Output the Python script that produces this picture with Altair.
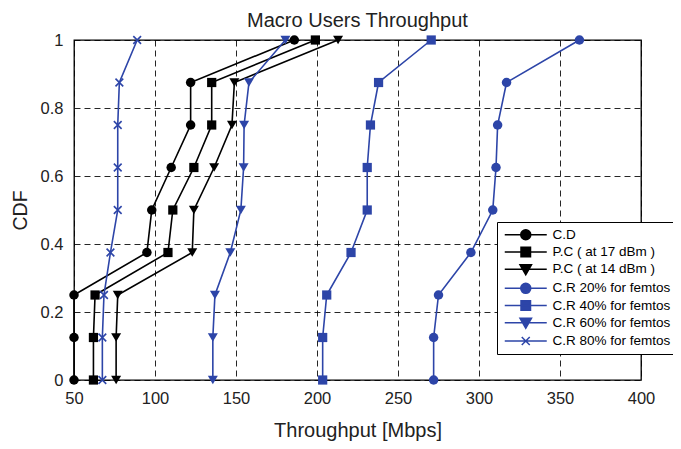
import altair as alt
import pandas as pd

cdf = [0, 0.125, 0.25, 0.375, 0.5, 0.625, 0.75, 0.875, 1]
names = ["C.D", "P.C ( at 17 dBm )", "P.C ( at 14 dBm )", "C.R 20% for femtos",
         "C.R 40% for femtos", "C.R 60% for femtos", "C.R 80% for femtos"]
cd = [50, 50, 50, 95, 98, 110, 122, 122, 186]
pc17 = [62, 62, 63, 108, 111, 124, 135, 135, 199]
pc14 = [76, 76, 77, 123, 124, 136.5, 147.5, 149, 213]
cr20 = [272, 272, 275, 295, 308.5, 310.5, 311.5, 317, 362]
cr40 = [203.5, 203.5, 206, 221, 231, 231, 233, 238, 270.5]
cr60 = [135.7, 135.7, 137, 146.5, 153, 154.7, 155, 158, 180.5]
cr80 = [67.5, 67.5, 68.5, 72.5, 77, 77, 77, 78, 89]
x_ticks = [50, 100, 150, 200, 250, 300, 350, 400]
y_ticks = [0, 0.2, 0.4, 0.6, 0.8, 1]

BLACK = "#000000"
BLUE = "#2D45A8"
colors = [BLACK, BLACK, BLACK, BLUE, BLUE, BLUE, BLUE]
series_vals = [cd, pc17, pc14, cr20, cr40, cr60, cr80]

XPATH = "M-1,-1L1,1M-1,1L1,-1"
markers = [("circle", 90, True), ("square", 85, True), ("triangle-down", 100, True),
           ("circle", 90, True), ("square", 85, True), ("triangle-down", 100, True),
           (XPATH, 60, False)]

legend_paths = [
    "M-4.2,0H4.2M-1,0A1,1 0 1,0 1,0A1,1 0 1,0 -1,0Z",
    "M-4.2,0H4.2M-0.95,-0.95H0.95V0.95H-0.95Z",
    "M-4.2,0H4.2M-1.15,-0.9H1.15L0,1.1Z",
    "M-4.2,0H4.2M-1,0A1,1 0 1,0 1,0A1,1 0 1,0 -1,0Z",
    "M-4.2,0H4.2M-0.95,-0.95H0.95V0.95H-0.95Z",
    "M-4.2,0H4.2M-1.15,-0.9H1.15L0,1.1Z",
    "M-4.2,0H4.2M-0.8,-0.8L0.8,0.8M-0.8,0.8L0.8,-0.8",
]

FONT = "Liberation Sans"
xscale = alt.Scale(domain=[50, 400], nice=False, zero=False)
yscale = alt.Scale(domain=[0, 1], nice=False, zero=False)
xaxis = alt.Axis(values=x_ticks, title="Throughput [Mbps]", grid=True, domain=False, ticks=False,
                 labelFlush=False, labelPadding=10, titlePadding=14, labelFontSize=16.5,
                 titleFontSize=20, labelFont=FONT, titleFont=FONT, titleFontWeight="normal",
                 labelColor="#222", titleColor="#222")
yaxis = alt.Axis(values=y_ticks, format="~g", title="CDF", grid=True, domain=False, ticks=False,
                 labelFlush=False, labelPadding=11, titlePadding=10, labelFontSize=16.5,
                 titleFontSize=19.5, labelFont=FONT, titleFont=FONT, titleFontWeight="normal",
                 labelColor="#222", titleColor="#222")

layers = []
for name, xs, col, (shape, size, filled) in zip(names, series_vals, colors, markers):
    df = pd.DataFrame({"x": xs, "cdf": cdf, "series": name})
    base = alt.Chart(df).encode(
        x=alt.X("x:Q", scale=xscale, axis=xaxis),
        y=alt.Y("cdf:Q", scale=yscale, axis=yaxis),
        order=alt.Order("cdf:Q"),
    )
    layers.append(base.mark_line(color=col, strokeWidth=1.6))
    if filled:
        layers.append(base.mark_point(shape=shape, size=size, filled=True, color=col, opacity=1))
    else:
        layers.append(base.mark_point(shape=shape, size=size, filled=False, color=col,
                                      strokeWidth=1.6, opacity=1))

leg_df = pd.DataFrame({"series": names})
legend_layer = alt.Chart(leg_df).transform_filter("false").mark_point(
    filled=True, strokeWidth=1.5, opacity=1
).encode(
    color=alt.Color("series:N", scale=alt.Scale(domain=names, range=colors),
                    legend=alt.Legend(title=None, orient="none", legendX=423, legendY=182,
                                      strokeColor="black", fillColor="white", padding=6,
                                      labelFont=FONT, labelFontSize=13.5, labelColor="black",
                                      symbolSize=100, symbolStrokeWidth=1.5, symbolOffset=16,
                                      labelOffset=20, rowPadding=1.2, labelLimit=300)),
    stroke=alt.Stroke("series:N", scale=alt.Scale(domain=names, range=colors), legend=alt.Legend(title=None)),
    shape=alt.Shape("series:N", scale=alt.Scale(domain=names, range=legend_paths), legend=alt.Legend(title=None)),
)
layers.append(legend_layer)

chart = alt.layer(*layers).properties(
    width=567, height=340,
    title=alt.TitleParams("Macro Users Throughput", fontSize=20, font=FONT, fontWeight="normal",
                          color="#222", frame="group", offset=1),
    autosize=alt.AutoSizeParams(type="none"),
    padding={"left": 66, "top": 32, "right": 32, "bottom": 61},
).configure_view(
    stroke="black", strokeWidth=1.3
).configure_axis(
    gridColor="black", gridDash=[6, 4], gridWidth=1, gridOpacity=0.85
)

chart.save("out.html", embed_options={"renderer": "svg", "actions": False})
